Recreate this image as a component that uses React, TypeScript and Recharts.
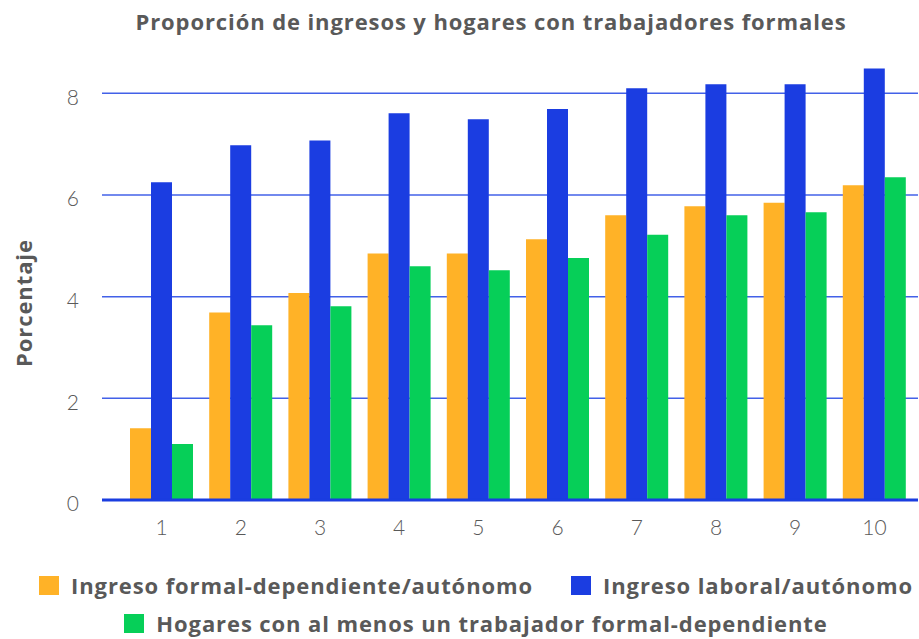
import { Bar, BarChart, CartesianGrid, Legend, XAxis, YAxis } from "recharts";

const deciles = ["1", "2", "3", "4", "5", "6", "7", "8", "9", "10"];
const formalDep = [1.41, 3.69, 4.07, 4.85, 4.85, 5.13, 5.6, 5.78, 5.85, 6.19];
const laboral = [6.25, 6.98, 7.07, 7.61, 7.49, 7.69, 8.1, 8.18, 8.18, 8.49];
const hogares = [1.1, 3.44, 3.81, 4.6, 4.52, 4.76, 5.22, 5.6, 5.66, 6.35];
const yTicks = [0, 2, 4, 6, 8];
const yMax = 9;

const data = deciles.map((d, i) => ({
  decil: d,
  formal: formalDep[i],
  laboral: laboral[i],
  hogares: hogares[i],
}));

const BOLD_FONT = "'Open Sans', sans-serif";
const TICK_FONT = "Lato, 'Open Sans', sans-serif";
const GREY = "#595959";

const names: Record<string, string> = {
  formal: "Ingreso formal-dependiente/autónomo",
  laboral: "Ingreso laboral/autónomo",
  hogares: "Hogares con al menos un trabajador formal-dependiente",
};

function LegendRows(props: any) {
  const items: any[] = props.payload || [];
  const byKey = (k: string) => items.find((p) => p.dataKey === k);
  const item = (p: any, gapAfter = 0) =>
    p ? (
      <span
        key={p.dataKey}
        style={{ display: "inline-flex", alignItems: "center", marginRight: gapAfter }}
      >
        <span
          style={{
            display: "inline-block",
            width: 20,
            height: 19,
            background: p.color,
            marginRight: 12,
          }}
        />
        {names[p.dataKey]}
      </span>
    ) : null;
  return (
    <div
      style={{
        fontFamily: BOLD_FONT,
        fontWeight: 700,
        fontSize: 22,
        letterSpacing: 0.9,
        color: GREY,
        textAlign: "center",
        lineHeight: "37px",
        whiteSpace: "nowrap",
        paddingLeft: 33,
        boxSizing: "border-box",
      }}
    >
      <div>
        {item(byKey("formal"), 38)}
        {item(byKey("laboral"))}
      </div>
      <div>{item(byKey("hogares"))}</div>
    </div>
  );
}

export default function App() {
  return (
    <div style={{ position: "absolute", left: 0, top: 0, width: 919, height: 639 }}>
      <div
        style={{
          position: "absolute",
          top: 6,
          left: 0,
          width: 919,
          textAlign: "center",
          fontFamily: BOLD_FONT,
          fontWeight: 700,
          fontSize: 22,
          letterSpacing: 0.9,
          color: GREY,
          paddingLeft: 63,
          boxSizing: "border-box",
          whiteSpace: "nowrap",
        }}
      >
        Proporción de ingresos y hogares con trabajadores formales
      </div>
      <BarChart
        width={919}
        height={639}
        data={data}
        margin={{ top: 42.5, right: 1, left: 0, bottom: 109 }}
        barGap={0}
        barSize={21}
      >
        <CartesianGrid
          vertical={false}
          stroke="#2145e4"
          strokeWidth={1.5}
          strokeOpacity={0.85}
          horizontalCoordinatesGenerator={({ offset }: any) =>
            yTicks.map((t) => offset.top + offset.height * (1 - t / yMax))
          }
        />
        <XAxis
          dataKey="decil"
          padding={{ left: 20, right: 4 }}
          tickLine={false}
          tickSize={0}
          tickMargin={20}
          axisLine={{ stroke: "#1a3de0", strokeWidth: 3 }}
          tick={{ fill: GREY, fontSize: 21, fontFamily: TICK_FONT, fontWeight: 300 }}
        />
        <YAxis
          width={102}
          domain={[0, yMax]}
          ticks={yTicks}
          tickLine={false}
          axisLine={false}
          tickSize={0}
          tickMargin={23}
          tick={{ fill: GREY, fontSize: 21, fontFamily: TICK_FONT, fontWeight: 300, dy: 4 }}
          label={() => (
            <text
              x={23}
              y={303}
              transform="rotate(-90, 23, 303)"
              textAnchor="middle"
              dominantBaseline="central"
              fill={GREY}
              fontFamily={BOLD_FONT}
              fontWeight={700}
              fontSize={22}
              letterSpacing={0.9}
            >
              Porcentaje
            </text>
          )}
        />
        <Legend
          layout="horizontal"
          verticalAlign="middle"
          align="center"
          wrapperStyle={{ top: 567, left: 0, width: 919 }}
          content={<LegendRows />}
        />
        <Bar dataKey="formal" fill="#FFB227" isAnimationActive={false} />
        <Bar dataKey="laboral" fill="#1B3DE1" isAnimationActive={false} />
        <Bar dataKey="hogares" fill="#06CF58" isAnimationActive={false} />
      </BarChart>
    </div>
  );
}
